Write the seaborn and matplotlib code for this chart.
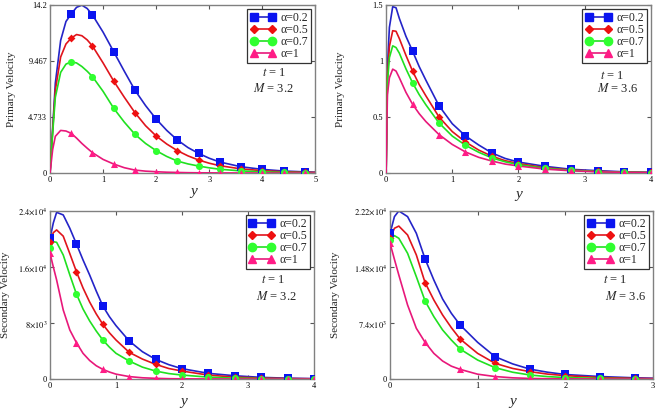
import numpy as np
import pandas as pd
import matplotlib
matplotlib.use("Agg")
import matplotlib.pyplot as plt
import seaborn as sns
from matplotlib.lines import Line2D

sns.set_style("white")
plt.rcParams['font.family'] = ['Liberation Serif', 'DejaVu Serif']
plt.rcParams['mathtext.fontset'] = 'stix'

labels = ["α=0.2", "α=0.5", "α=0.7", "α=1"]

# Panel 1: Primary velocity, M = 3.2
x1 = [0, 0.05, 0.1, 0.2, 0.3, 0.4, 0.5, 0.6, 0.7, 0.8, 1.0, 1.2, 1.4, 1.6, 1.8, 2.0,
      2.2, 2.4, 2.6, 2.8, 3.0, 3.2, 3.6, 4.0, 4.4, 4.8, 5.0]
p1_a02 = [0, 3.8, 7.6, 11.2, 12.8, 13.44, 14.0, 14.18, 13.9, 13.35, 11.9, 10.25, 8.6, 7.0,
          5.7, 4.56, 3.6, 2.79, 2.15, 1.66, 1.25, 0.93, 0.53, 0.31, 0.17, 0.1, 0.07]
p1_a05 = [0, 3.6, 7.0, 9.8, 10.9, 11.4, 11.7, 11.6, 11.25, 10.73, 9.3, 7.77, 6.4, 5.1,
          4.0, 3.13, 2.45, 1.89, 1.45, 1.1, 0.83, 0.62, 0.35, 0.2, 0.11, 0.06, 0.05]
p1_a07 = [0, 3.4, 6.4, 8.5, 9.2, 9.4, 9.3, 9.0, 8.6, 8.14, 6.9, 5.47, 4.3, 3.27,
          2.5, 1.89, 1.4, 1.01, 0.77, 0.59, 0.44, 0.32, 0.18, 0.1, 0.05, 0.03, 0.02]
p1_a1 = [0, 2.0, 3.1, 3.6, 3.55, 3.35, 2.95, 2.5, 2.1, 1.72, 1.15, 0.76, 0.45, 0.25,
         0.16, 0.11, 0.07, 0.05, 0.03, 0.02, 0.015, 0.01, 0.005, 0, 0, 0, 0]

# Panel 2: Primary velocity, M = 3.6
x2 = [0, 0.02, 0.05, 0.1, 0.15, 0.2, 0.3, 0.4, 0.5, 0.6, 0.8, 1.0, 1.2, 1.4, 1.6, 1.8,
      2.0, 2.4, 2.8, 3.2, 3.6, 4.0]
p2_a02 = [0, 0.95, 1.3, 1.485, 1.475, 1.38, 1.22, 1.088, 0.95, 0.83, 0.60, 0.44, 0.331,
          0.25, 0.179, 0.13, 0.098, 0.06, 0.033, 0.021, 0.011, 0.006]
p2_a05 = [0, 0.85, 1.13, 1.27, 1.265, 1.2, 1.05, 0.91, 0.79, 0.69, 0.50, 0.37, 0.277,
          0.205, 0.15, 0.11, 0.085, 0.048, 0.027, 0.015, 0.008, 0.005]
p2_a07 = [0, 0.8, 1.03, 1.135, 1.12, 1.07, 0.93, 0.805, 0.70, 0.61, 0.447, 0.33, 0.248,
          0.185, 0.135, 0.1, 0.075, 0.042, 0.024, 0.013, 0.007, 0.004]
p2_a1 = [0, 0.7, 0.85, 0.927, 0.91, 0.85, 0.72, 0.614, 0.53, 0.46, 0.343, 0.255, 0.188,
         0.14, 0.107, 0.08, 0.063, 0.035, 0.02, 0.011, 0.006, 0.003]

# Panel 3: Secondary velocity, M = 3.2
x3 = [0, 0.05, 0.1, 0.2, 0.3, 0.4, 0.5, 0.6, 0.7, 0.8, 0.9, 1.0, 1.2, 1.4, 1.6, 1.8,
      2.0, 2.4, 2.8, 3.2, 3.6, 4.0]
s1_a02 = [20100, 22300, 23800, 23430, 21520, 19290, 17000, 14860, 12570, 10430, 8900,
          7620, 5430, 3900, 2810, 2050, 1480, 814, 470, 240, 120, 60]
s1_a05 = [19620, 20900, 21290, 20400, 17900, 15330, 13000, 11000, 9300, 7810, 6600,
          5570, 3810, 2850, 2100, 1500, 1140, 560, 280, 140, 70, 35]
s1_a07 = [18670, 19620, 19520, 17710, 14860, 12140, 10000, 8300, 6860, 5570, 4550,
          3670, 2570, 1700, 1140, 780, 570, 270, 130, 60, 30, 15]
s1_a1 = [17950, 16000, 14140, 9860, 7000, 5190, 3670, 2650, 1900, 1380, 1000,
         700, 350, 180, 100, 50, 30, 10, 0, 0, 0, 0]

# Panel 4: Secondary velocity, M = 3.6
x4 = [0, 0.05, 0.1, 0.2, 0.3, 0.4, 0.5, 0.6, 0.7, 0.8, 1.0, 1.2, 1.4, 1.6, 1.8, 2.0,
      2.4, 2.8, 3.0]
s2_a02 = [19250, 21450, 22200, 21450, 19250, 15860, 13080, 10570, 8680, 7140, 4850,
          2950, 2000, 1300, 900, 600, 330, 160, 110]
s2_a05 = [18590, 19910, 20200, 19030, 16390, 12730, 10440, 8460, 6780, 5290, 3390,
          2070, 1400, 970, 650, 450, 200, 90, 60]
s2_a07 = [18370, 18940, 18590, 16610, 13520, 10310, 8240, 6480, 5150, 3960, 2510,
          1500, 900, 530, 320, 200, 80, 30, 20]
s2_a1 = [17930, 15800, 13740, 9780, 6700, 4850, 3390, 2380, 1700, 1280, 640,
         330, 160, 80, 40, 20, 5, 0, 0]

line_colors = ['#2424c8', '#e0141c', '#20e020', '#e8187a']
mark_colors = ['#0a14f0', '#ee1010', '#30ff30', '#ff1c86']
markers = ['s', 'D', 'o', '^']
msizes = [30, 16, 26, 26]

panels = [
    dict(x=x1, ys=[p1_a02, p1_a05, p1_a07, p1_a1], xlim=(0, 5), ylim=(0, 14.2),
         xticks=[0, 1, 2, 3, 4, 5], yticks=[0, 4.733, 9.467, 14.2],
         ytl=['0', '4.733', '9.467', '14.2'], ylabel='Primary Velocity', M='3.2',
         mstart=0.4, pos=[0.0758, 0.580, 0.402, 0.408], txt=(0.80, 0.595, 0.766, 0.50),
         ylc=-0.128, xlc=(0.54, -0.07)),
    dict(x=x2, ys=[p2_a02, p2_a05, p2_a07, p2_a1], xlim=(0, 4), ylim=(0, 1.5),
         xticks=[0, 1, 2, 3, 4], yticks=[0, 0.5, 1, 1.5],
         ytl=['0', '0.5', '1', '1.5'], ylabel='Primary Velocity', M='3.6',
         mstart=0.4, pos=[0.585, 0.580, 0.401, 0.408], txt=(0.81, 0.58, 0.795, 0.50),
         ylc=-0.155, xlc=(0.50, -0.09)),
    dict(x=x3, ys=[s1_a02, s1_a05, s1_a07, s1_a1], xlim=(0, 4), ylim=(0, 24000),
         xticks=[0, 1, 2, 3, 4], yticks=[0, 8000, 16000, 24000],
         ytl=['0', r'$8{\times}10^3$', r'$1.6{\times}10^4$', r'$2.4{\times}10^4$'],
         ylabel='Secondary Velocity', M='3.2',
         mstart=0.0, pos=[0.0758, 0.080, 0.400, 0.408], txt=(0.80, 0.59, 0.78, 0.49),
         ylc=-0.15, xlc=(0.505, -0.095)),
    dict(x=x4, ys=[s2_a02, s2_a05, s2_a07, s2_a1], xlim=(0, 3), ylim=(0, 22200),
         xticks=[0, 1, 2, 3], yticks=[0, 7400, 14800, 22200],
         ytl=['0', r'$7.4{\times}10^3$', r'$1.48{\times}10^4$', r'$2.22{\times}10^4$'],
         ylabel='Secondary Velocity', M='3.6',
         mstart=0.0, pos=[0.591, 0.080, 0.398, 0.408], txt=(0.81, 0.59, 0.82, 0.49),
         ylc=-0.19, xlc=(0.466, -0.095)),
]

fig = plt.figure(figsize=(6.6, 4.12), dpi=100)

for p in panels:
    ax = fig.add_axes(p['pos'])
    xs = np.array(p['x'], dtype=float)
    k = (xs - p['mstart']) / 0.4
    mask = np.isclose(k, np.round(k)) & (xs >= p['mstart'] - 1e-9)
    for i, yv in enumerate(p['ys']):
        yv = np.array(yv, dtype=float)
        df = pd.DataFrame({'y': xs, 'v': yv})
        sns.lineplot(data=df, x='y', y='v', ax=ax, color=line_colors[i], linewidth=1.2,
                     estimator=None, sort=False, legend=False, zorder=2 + i)
        dm = df[mask]
        sns.scatterplot(data=dm, x='y', y='v', ax=ax, color=mark_colors[i], marker=markers[i],
                        s=msizes[i], linewidth=0, legend=False, zorder=10 + i)
    ax.set_xlim(*p['xlim'])
    ax.set_ylim(*p['ylim'])
    ax.set_xticks(p['xticks'])
    ax.set_xticklabels([str(t) for t in p['xticks']])
    ax.set_yticks(p['yticks'])
    ax.set_yticklabels(p['ytl'])
    ax.tick_params(direction='in', length=3, width=0.8, labelsize=6, pad=2,
                   top=True, right=True, bottom=True, left=True, colors='#555555',
                   labelcolor='black')
    for s in ax.spines.values():
        s.set_color('#808080')
        s.set_linewidth(1.0)
        s.set_visible(True)
    ax.set_xlabel('y', fontsize=11, style='italic')
    ax.set_ylabel(p['ylabel'], fontsize=8)
    ax.yaxis.set_label_coords(p['ylc'], 0.5)
    ax.xaxis.set_label_coords(*p['xlc'])
    tx, ty, mx, my = p['txt']
    ax.text(tx, ty, r'$t$ = 1', transform=ax.transAxes, fontsize=9, va='center', ha='left')
    ax.text(mx, my, r'$M$ = ' + p['M'], transform=ax.transAxes, fontsize=9, va='center', ha='left')
    handles = [Line2D([0], [0], color=line_colors[i], marker=markers[i],
                      markerfacecolor=mark_colors[i], markeredgecolor=mark_colors[i],
                      markersize=[6, 4.5, 6, 6][i], linewidth=1.2) for i in range(4)]
    leg = ax.legend(handles, labels, loc='upper right', bbox_to_anchor=(0.985, 0.975),
                    borderaxespad=0, numpoints=2, fontsize=8.5, fancybox=False,
                    framealpha=1, edgecolor='#333333', handlelength=2.2,
                    handletextpad=0.4, borderpad=0.25, labelspacing=0.0)
    leg.get_frame().set_linewidth(0.9)

fig.savefig('out.png', dpi=100)
